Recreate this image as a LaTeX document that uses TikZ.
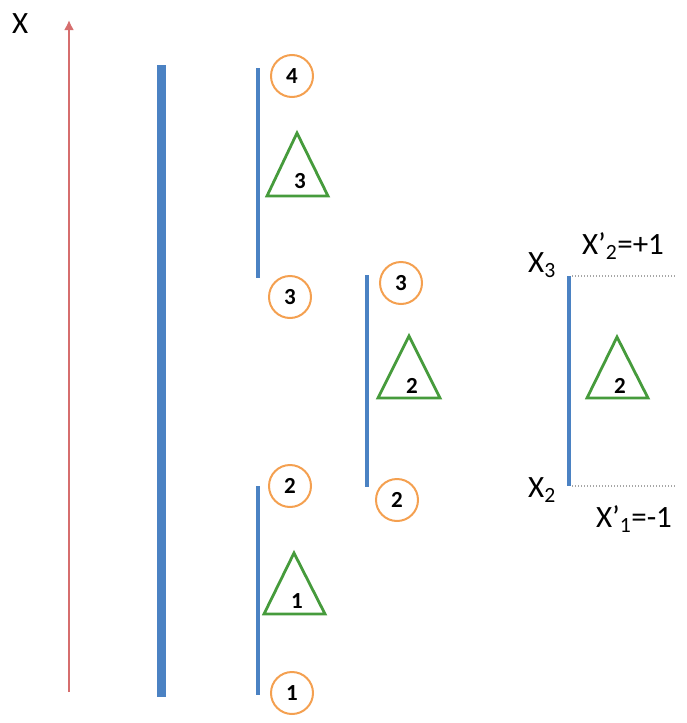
\documentclass[tikz,border=0pt]{standalone}
\usepackage{fontspec}
\setmainfont{Carlito}
\usetikzlibrary{arrows.meta}
\definecolor{axred}{RGB}{214,110,110}
\definecolor{segblue}{RGB}{75,130,195}
\definecolor{ptorange}{RGB}{244,160,80}
\definecolor{trigreen}{RGB}{70,155,60}
\tikzset{
  pt/.style={circle,draw=ptorange,line width=2pt,minimum size=42pt,inner sep=0pt,font=\fontsize{23}{23}\selectfont\bfseries},
  seg/.style={draw=segblue,line width=3.2pt},
  tri/.style={draw=trigreen,line width=2.8pt,line join=miter},
  trilab/.style={font=\fontsize{23}{23}\selectfont\bfseries,inner sep=0pt},
  lab/.style={font=\fontsize{31}{31}\selectfont,inner sep=0pt,anchor=base west},
  dotl/.style={draw=gray!70,line width=1.3pt,dash pattern=on 1.2pt off 1.8pt}
}
\begin{document}
\begin{tikzpicture}[x=1pt,y=-1pt]
\useasboundingbox (0,0) rectangle (686,723);
% axis
\coordinate (ax0) at (69,692);
\coordinate (ax1) at (69,20);
\draw[axred,line width=2.8pt,-{Latex[length=10pt,width=10pt]}] (ax0) -- (ax1);
\node[lab] (xl) at (12,33) {X};
% thick segment
\coordinate (t0) at (161,65);
\coordinate (t1) at (161,697);
\draw[segblue,line width=9pt] (t0) -- (t1);
% left column, top
\coordinate (la0) at (258,68);
\coordinate (la1) at (258,278);
\draw[seg] (la0) -- (la1);
\node[pt] (c4) at (292,76) {4};
\node[pt] (c3a) at (290,297) {3};
\coordinate (ta1) at (297,133);
\coordinate (ta2) at (328,196);
\coordinate (ta3) at (267,196);
\draw[tri] (ta1) -- (ta2) -- (ta3) -- cycle;
\node[trilab] (n3) at (300,181) {3};
% left column, bottom
\coordinate (lb0) at (258,486);
\coordinate (lb1) at (258,695);
\draw[seg] (lb0) -- (lb1);
\node[pt] (c2a) at (290,486) {2};
\node[pt] (c1) at (292,693) {1};
\coordinate (tb1) at (294,553);
\coordinate (tb2) at (325,614);
\coordinate (tb3) at (264,614);
\draw[tri] (tb1) -- (tb2) -- (tb3) -- cycle;
\node[trilab] (n1) at (297,601) {1};
% middle column
\coordinate (m0) at (367,275);
\coordinate (m1) at (367,487);
\draw[seg] (m0) -- (m1);
\node[pt] (c3b) at (401,283) {3};
\node[pt] (c2b) at (397,500) {2};
\coordinate (tm1) at (409,336);
\coordinate (tm2) at (440,398);
\coordinate (tm3) at (378,398);
\draw[tri] (tm1) -- (tm2) -- (tm3) -- cycle;
\node[trilab] (n2a) at (412,386) {2};
% right column
\coordinate (r0) at (569,276);
\coordinate (r1) at (569,486);
\draw[seg] (r0) -- (r1);
\coordinate (d0) at (676,276);
\coordinate (d1) at (676,486);
\draw[dotl] (r0) ++(3,0) -- (d0);
\draw[dotl] (r1) ++(3,0) -- (d1);
\coordinate (tr1) at (617,337);
\coordinate (tr2) at (648,398);
\coordinate (tr3) at (587,398);
\draw[tri] (tr1) -- (tr2) -- (tr3) -- cycle;
\node[trilab] (n2b) at (620,386) {2};
\node[lab] (x3) at (528,272) {X\textsubscript{3}};
\node[lab] (x2) at (528,497) {X\textsubscript{2}};
\node[lab] (xp2) at (582,254) {X’\textsubscript{2}=+1};
\node[lab] (xp1) at (596,527) {X’\textsubscript{1}=-1};
\end{tikzpicture}
\end{document}
